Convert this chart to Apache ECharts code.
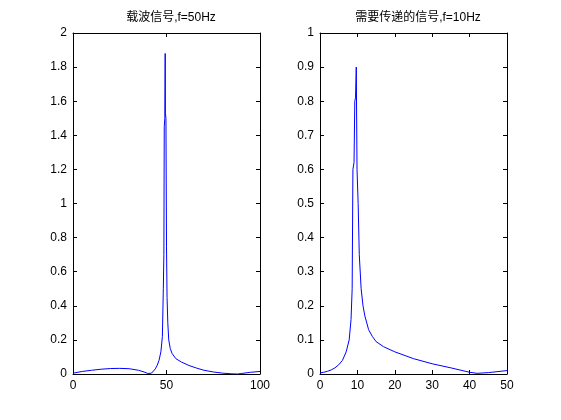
<!DOCTYPE html><html><head><meta charset="utf-8"><script src="https://cdn.jsdelivr.net/npm/echarts@6/dist/echarts.min.js"></script></head><body style="margin:0;background:#fff"><div id="c" style="width:561px;height:420px"></div><script>
const carrierData=[[0,0.005],[5,0.015],[10,0.022],[15,0.028],[20,0.032],[25,0.033],[30,0.031],[35,0.022],[38,0.012],[40,0.003],[41,0.0],[42,0.005],[43,0.015],[44,0.03],[45,0.05],[46,0.08],[47,0.13],[47.8,0.22],[48.3,0.5],[48.6,0.7],[48.8,1.45],[49.1,1.5],[49.3,1.88],[49.4,1.53],[49.7,1.5],[50,0.75],[50.3,0.45],[50.7,0.3],[51.2,0.2],[52,0.15],[53,0.12],[55,0.09],[58,0.07],[62,0.05],[66,0.035],[70,0.022],[75,0.012],[80,0.005],[85,0.001],[88,0.0],[90,0.003],[95,0.01],[100,0.015]];
const signalData=[[0,0.003],[1,0.005],[2,0.008],[3,0.012],[4,0.018],[5,0.027],[6,0.04],[7,0.065],[7.8,0.1],[8.3,0.16],[8.6,0.25],[8.8,0.6],[9.1,0.62],[9.3,0.8],[9.5,0.81],[9.7,0.9],[9.9,0.6],[10.2,0.5],[10.5,0.35],[11,0.25],[11.5,0.2],[12,0.17],[13,0.13],[14,0.11],[15,0.095],[17,0.08],[20,0.065],[25,0.045],[30,0.03],[35,0.018],[40,0.005],[42,0.002],[45,0.004],[50,0.01]];
const titles=['载波信号,f=50Hz','需要传递的信号,f=10Hz'];
const F='Liberation Sans, Noto Sans CJK SC, sans-serif';
const ch=echarts.init(document.getElementById('c'));
const ln={lineStyle:{color:'#000',width:1}};
function ax(type,grid,pos,min,max,intv,show,fmt){return {type:'value',gridIndex:grid,position:pos,min,max,interval:intv,splitLine:{show:false},axisLine:{show:true,onZero:false,...ln},axisTick:{inside:true,length:4,lineStyle:{color:'#000'}},axisLabel:{show:show,color:'#000',fontSize:12,fontFamily:F,margin:6,formatter:fmt}};}
const fmt=v=>String(+v.toFixed(1));
ch.setOption({animation:false,
title:[{text:titles[0],left:166,top:7,textAlign:'center',textStyle:{fontSize:12,fontWeight:'normal',color:'#000',fontFamily:F}},{text:titles[1],left:413,top:7,textAlign:'center',textStyle:{fontSize:12,fontWeight:'normal',color:'#000',fontFamily:F}}],
grid:[{left:73,top:33,width:187,height:341},{left:320,top:33,width:187,height:341}],
xAxis:[ax('x',0,'bottom',0,100,50,true,fmt),ax('x',0,'top',0,100,50,false),ax('x',1,'bottom',0,50,10,true,fmt),ax('x',1,'top',0,50,10,false)],
yAxis:[ax('y',0,'left',0,2,0.2,true,fmt),ax('y',0,'right',0,2,0.2,false),ax('y',1,'left',0,1,0.1,true,fmt),ax('y',1,'right',0,1,0.1,false)],
series:[{type:'line',xAxisIndex:0,yAxisIndex:0,data:carrierData,symbol:'none',lineStyle:{color:'#0000ff',width:1}},{type:'line',xAxisIndex:2,yAxisIndex:2,data:signalData,symbol:'none',lineStyle:{color:'#0000ff',width:1}}]});
</script></body></html>
